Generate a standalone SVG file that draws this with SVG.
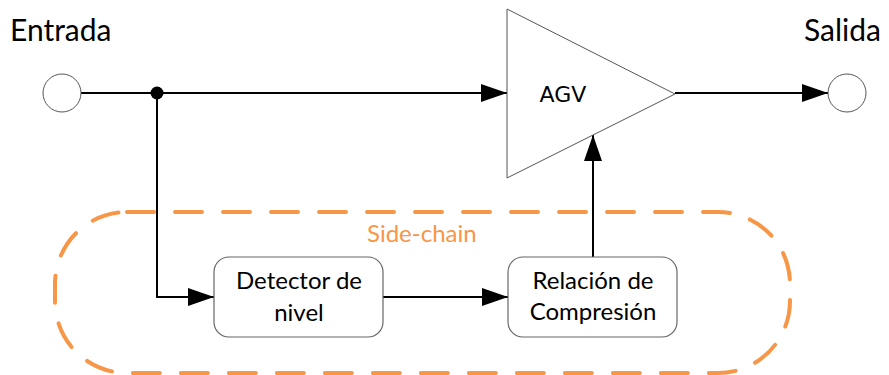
<svg xmlns="http://www.w3.org/2000/svg" width="889" height="375" viewBox="0 0 889 375">
  <style>
    .lbl { font-family: Lato, "Open Sans", sans-serif; fill: #000; }
    .io { font-size: 30px; }
    .box-text { font-size: 24px; text-anchor: middle; }
    .port { fill: #fff; stroke: #555; stroke-width: 1; }
    .box { fill: #fff; stroke: #666; stroke-width: 1.2; }
    .wire { fill: none; stroke: #000; stroke-width: 2; }
    .chain { fill: none; stroke: #F79646; stroke-width: 4; stroke-dasharray: 27 21; stroke-linecap: round; }
  </style>
  <defs>
    <marker id="arrow" markerUnits="userSpaceOnUse" markerWidth="26" markerHeight="18" refX="26" refY="9" orient="auto">
      <path d="M0,0 L26,9 L0,18 z" fill="#000"/>
    </marker>
  </defs>

  <rect width="889" height="375" fill="#fff"/>

  <!-- side-chain boundary -->
  <g id="side-chain">
    <rect class="chain" x="55" y="212" width="735" height="161" rx="72" ry="72"/>
    <text class="lbl" x="367" y="242" font-size="24" style="fill:#F79646">Side-chain</text>
  </g>

  <!-- connectors -->
  <g id="connectors">
    <line class="wire" x1="81" y1="93" x2="507" y2="93" marker-end="url(#arrow)"/>
    <polyline class="wire" points="157,93 157,297 214,297" marker-end="url(#arrow)"/>
    <line class="wire" x1="383" y1="297" x2="508" y2="297" marker-end="url(#arrow)"/>
    <line class="wire" x1="593" y1="257" x2="593" y2="135" marker-end="url(#arrow)"/>
    <line class="wire" x1="675" y1="93" x2="828" y2="93" marker-end="url(#arrow)"/>
    <circle cx="157" cy="93" r="6.5" fill="#000"/>
  </g>

  <g id="entrada">
    <text class="lbl io" x="10" y="41">Entrada</text>
    <circle class="port" cx="62" cy="93" r="19"/>
  </g>

  <g id="salida">
    <text class="lbl io" x="881" y="41" text-anchor="end">Salida</text>
    <circle class="port" cx="847" cy="93" r="19"/>
  </g>

  <g id="agv">
    <polygon points="507,9 675,94 507,178" fill="#fff" stroke="#555" stroke-width="1"/>
    <text x="563" y="102" font-family="DejaVu Sans, sans-serif" font-size="22" text-anchor="middle">AGV</text>
  </g>

  <g id="detector">
    <rect class="box" x="214" y="257" width="169" height="80" rx="15" ry="15"/>
    <text class="lbl box-text" x="299" y="289">Detector de</text>
    <text class="lbl box-text" x="299" y="321">nivel</text>
  </g>

  <g id="relacion">
    <rect class="box" x="508" y="257" width="169" height="80" rx="15" ry="15"/>
    <text class="lbl box-text" x="593" y="289">Relación de</text>
    <text class="lbl box-text" x="593" y="320">Compresión</text>
  </g>
</svg>
